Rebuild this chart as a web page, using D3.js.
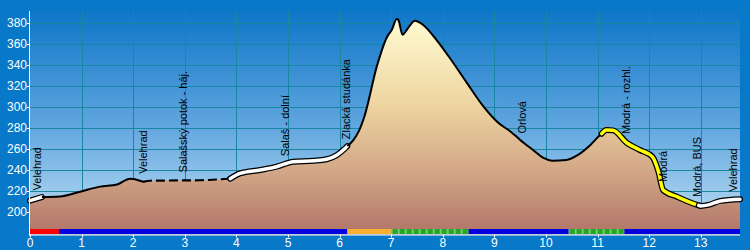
<!DOCTYPE html>
<html><head><meta charset="utf-8">
<script src="https://cdn.jsdelivr.net/npm/d3@7"></script>
<style>html,body{margin:0;padding:0;background:#0878c8;}svg{display:block;}</style>
</head><body>
<svg id="chart" width="750" height="250"></svg>
<script>
// ---- data ----
const profileKm = [0, 0.23, 0.58, 0.97, 1.36, 1.69, 1.94, 2.0, 2.19, 2.33, 3.3, 3.88, 4.07, 4.46, 4.78, 5.10, 5.49, 5.75, 5.95, 6.11, 6.27, 6.37, 6.49, 6.72, 6.92, 7.01, 7.11, 7.14, 7.22, 7.30, 7.46, 7.62, 7.88, 8.14, 8.47, 8.79, 9.08, 9.31, 9.50, 9.75, 9.95, 10.12, 10.39, 10.62, 10.86, 11.05, 11.17, 11.30, 11.57, 11.82, 12.06, 12.18, 12.27, 12.54, 12.93, 13.0, 13.15, 13.38, 13.76];
const profileElev = [211, 214.5, 215, 219.6, 224.4, 226.5, 232, 231.7, 229, 230, 230.5, 232, 237, 240.3, 243.4, 248.2, 249.1, 250.5, 254.6, 261, 269, 277, 292.7, 338.7, 367, 373.6, 384, 383, 369, 373.6, 382.5, 378.4, 364, 346.7, 323, 300.6, 285, 277, 268.9, 259.3, 251.7, 249.1, 249.8, 254.6, 264.1, 273.6, 278.4, 278, 266, 259.3, 253, 238.7, 221.2, 214.8, 207, 206, 207, 210.8, 212.4];

const routeStart = [0, 0.23, 2.19, 3.88, 6.15, 11.08, 12.96];
const routeEnd   = [0.23, 2.19, 3.88, 6.15, 11.08, 12.96, 13.76];
const routeType  = ["road", "path", "track", "road", "path", "marked", "road"];

const surfaceStart = [0, 0.56, 6.15, 7.01, 8.5, 10.44, 11.52];
const surfaceEnd   = [0.56, 6.15, 7.01, 8.5, 10.44, 11.52, 13.76];
const surfaceType  = ["start", "asphalt", "gravel", "forest", "asphalt", "forest", "asphalt"];

const waypointName = ["Velehrad", "Velehrad", "Salašský potok - háj.", "Salaš - dolní", "Zlacká studánka", "Orlová", "Modrá - rozhl.", "Modrá", "Modrá, BUS", "Velehrad"];
const waypointKm   = [0.14, 2.19, 2.97, 4.94, 6.13, 9.54, 11.55, 12.27, 12.93, 13.63];

const yTicks = [200, 220, 240, 260, 280, 300, 320, 340, 360, 380];
const xTicks = [0,1,2,3,4,5,6,7,8,9,10,11,12,13];

// ---- chart ----
const svg = d3.select("#chart");
const pL = 30, pR = 740, pT = 11, pB = 234.5;
const x = d3.scaleLinear().domain([0, 13.76]).range([pL, pR]);
const y = d3.scaleLinear().domain([178.8, 391.7]).range([pB, pT]);

const defs = svg.append("defs");
const bg = defs.append("linearGradient").attr("id","bg").attr("gradientUnits","userSpaceOnUse")
  .attr("x1",0).attr("x2",0).attr("y1",pT).attr("y2",pB);
bg.append("stop").attr("offset","0%").attr("stop-color","#0e76c8");
bg.append("stop").attr("offset","50%").attr("stop-color","#5ea4de");
bg.append("stop").attr("offset","100%").attr("stop-color","#c2e2f5");
const ag = defs.append("linearGradient").attr("id","ag").attr("gradientUnits","userSpaceOnUse")
  .attr("x1",0).attr("x2",0).attr("y1",pT+8).attr("y2",pB);
ag.append("stop").attr("offset","0%").attr("stop-color","#fffbd2");
ag.append("stop").attr("offset","40%").attr("stop-color","#eed4a0");
ag.append("stop").attr("offset","70%").attr("stop-color","#d3a888");
ag.append("stop").attr("offset","100%").attr("stop-color","#b07468");

svg.append("rect").attr("x",0).attr("y",0).attr("width",750).attr("height",250).attr("fill","#0878c8");
svg.append("rect").attr("x",pL).attr("y",pT).attr("width",pR-pL).attr("height",pB-pT).attr("fill","url(#bg)");

// grid
const grid = svg.append("g").attr("stroke","#1986a2").attr("stroke-width",1);
grid.selectAll("line.h").data(yTicks).join("line")
  .attr("x1",pL).attr("x2",pR).attr("y1",d=>Math.round(y(d))+0.5).attr("y2",d=>Math.round(y(d))+0.5);
grid.selectAll("line.v").data(xTicks.filter(d=>d>0)).join("line")
  .attr("y1",pT).attr("y2",pB).attr("x1",d=>Math.round(x(d))+0.5).attr("x2",d=>Math.round(x(d))+0.5);

const pts = profileKm.map((k,i)=>[k, profileElev[i]]);
const elevAt = k => {
  for (let i=1;i<pts.length;i++){
    if (k<=pts[i][0]) { const a=pts[i-1], b=pts[i]; const t=(k-a[0])/(b[0]-a[0]); return a[1]+t*(b[1]-a[1]); }
  }
  return pts[pts.length-1][1];
};

const curve = d3.curveMonotoneX;
svg.append("path").datum(pts)
  .attr("d", d3.area().x(d=>x(d[0])).y0(pB).y1(d=>y(d[1])).curve(curve))
  .attr("fill","url(#ag)");

// route segments
const lineGen = d3.line().x(d=>x(d[0])).y(d=>y(d[1])).curve(curve);
const segPts = (a,b) => {
  const arr = [[a, elevAt(a)]];
  pts.forEach(p => { if (p[0]>a && p[0]<b) arr.push(p); });
  arr.push([b, elevAt(b)]);
  return arr;
};
const routeG = svg.append("g").attr("fill","none").attr("stroke-linejoin","round");
routeStart.forEach((s,i)=>{
  const d = lineGen(segPts(s, routeEnd[i]));
  const t = routeType[i];
  if (t === "road") {
    routeG.append("path").attr("d",d).attr("stroke","#000").attr("stroke-width",6).attr("stroke-linecap","round");
    routeG.append("path").attr("d",d).attr("stroke","#fff").attr("stroke-width",3.5).attr("stroke-linecap","round");
  } else if (t === "marked") {
    routeG.append("path").attr("d",d).attr("stroke","#000").attr("stroke-width",6).attr("stroke-linecap","round");
    routeG.append("path").attr("d",d).attr("stroke","#ffff00").attr("stroke-width",3.5).attr("stroke-linecap","round");
  } else if (t === "track") {
    routeG.append("path").attr("d",d).attr("stroke","#000").attr("stroke-width",2.2).attr("stroke-dasharray","9,4");
  } else {
    routeG.append("path").attr("d",d).attr("stroke","#000").attr("stroke-width",2);
  }
});

// surface bar
const surfColor = {start:"#ff0000", asphalt:"#0000e0", gravel:"#f8b030", forest:"#7fc07f"};
const barY = 231.5;
const bar = svg.append("g");
surfaceStart.forEach((s,i)=>{
  const t = surfaceType[i];
  bar.append("line").attr("x1",x(s)).attr("x2",x(surfaceEnd[i])).attr("y1",barY).attr("y2",barY)
    .attr("stroke",surfColor[t]).attr("stroke-width",5);
  if (t === "forest") {
    bar.append("line").attr("x1",x(s)+1).attr("x2",x(surfaceEnd[i])).attr("y1",barY).attr("y2",barY)
      .attr("stroke","#1faa1f").attr("stroke-width",5).attr("stroke-dasharray","5,2");
  }
});

// waypoint labels
svg.append("g").selectAll("text").data(waypointName).join("text")
  .attr("transform",(d,i)=>`translate(${x(waypointKm[i])},${y(elevAt(waypointKm[i]))-8}) rotate(-90)`)
  .attr("dy","0.35em")
  .attr("font-family","Liberation Sans, Arial, sans-serif").attr("font-size",11).attr("fill","#000")
  .text(d=>d);

// axes
const axG = svg.append("g").attr("fill","#fff").attr("font-family","Liberation Sans, Arial, sans-serif").attr("font-size",12);
axG.append("line").attr("x1",pL-0.5).attr("x2",pL-0.5).attr("y1",pT).attr("y2",pB+1).attr("stroke","#fff");
axG.selectAll("line.yt").data(yTicks).join("line")
  .attr("x1",pL-3).attr("x2",pL).attr("y1",d=>Math.round(y(d))+0.5).attr("y2",d=>Math.round(y(d))+0.5).attr("stroke","#fff");
axG.selectAll("text.yl").data(yTicks).join("text")
  .attr("x",pL-3).attr("y",d=>y(d)).attr("dy","0.35em").attr("text-anchor","end").text(d=>d);
axG.append("line").attr("x1",pL-1).attr("x2",pR).attr("y1",pB+0.5).attr("y2",pB+0.5).attr("stroke","#fff");
axG.selectAll("line.xt").data(xTicks).join("line")
  .attr("x1",d=>Math.round(x(d))+0.5).attr("x2",d=>Math.round(x(d))+0.5).attr("y1",pB).attr("y2",pB+3).attr("stroke","#fff");
axG.selectAll("text.xl").data(xTicks).join("text")
  .attr("x",d=>x(d)).attr("y",243).attr("dy","0.35em").attr("text-anchor","middle").text(d=>d);
</script>
</body></html>
